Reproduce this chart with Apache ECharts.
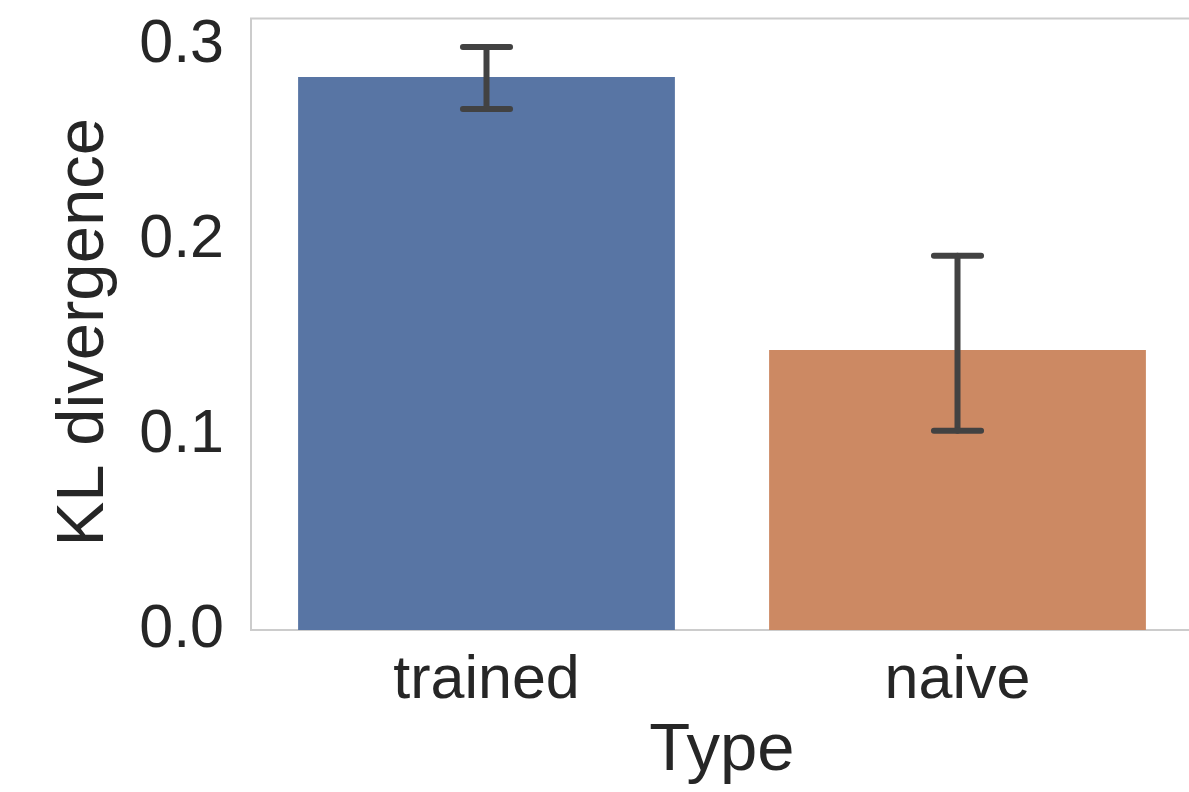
<!DOCTYPE html>
<html>
<head>
<meta charset="utf-8">
<script src="https://cdn.jsdelivr.net/npm/echarts@6/dist/echarts.min.js"></script>
<style>
html,body{margin:0;padding:0;background:#fff;overflow:hidden;}
#chart{width:1196px;height:792px;}
</style>
</head>
<body>
<div id="chart"></div>
<script>
const categories = ['trained', 'naive'];
const means = [0.2836, 0.1436];
const ciLow = [0.2672, 0.1022];
const ciHigh = [0.2990, 0.1919];
const barColors = ['#5875a4', '#cc8963'];
const yTicks = [0.0, 0.1, 0.2, 0.3];

const FONT = '"Liberation Sans", Arial, sans-serif';
const TXT = '#262626';

const chart = echarts.init(document.getElementById('chart'), null, {renderer: 'canvas'});
const option = {
  backgroundColor: '#ffffff',
  animation: false,
  grid: {
    left: 251, top: 18.5, width: 942, height: 611.5,
    show: true, borderColor: '#cccccc', borderWidth: 2, backgroundColor: 'transparent'
  },
  xAxis: {
    type: 'category',
    data: categories,
    name: 'Type',
    nameLocation: 'middle',
    nameGap: 88,
    nameTextStyle: {fontFamily: FONT, fontSize: 67, color: TXT, verticalAlign: 'top'},
    axisLine: {show: false},
    axisTick: {show: false},
    splitLine: {show: false},
    axisLabel: {fontFamily: FONT, fontSize: 61, color: TXT, margin: 21}
  },
  yAxis: {
    type: 'value',
    min: 0, max: 0.3136, interval: 0.1,
    name: 'KL divergence',
    nameLocation: 'middle',
    nameGap: 133,
    nameTextStyle: {fontFamily: FONT, fontSize: 67, color: TXT, padding: [0, 16, 0, 0]},
    axisLine: {show: false},
    axisTick: {show: false},
    splitLine: {show: false},
    axisLabel: {
      fontFamily: FONT, fontSize: 61, color: TXT, margin: 27,
      verticalAlign: 'middle', padding: [20, 0, 0, 0],
      showMaxLabel: false,
      formatter: function (v) {
        for (const t of yTicks) { if (Math.abs(v - t) < 1e-6) return t.toFixed(1); }
        return '';
      }
    }
  },
  series: [
    {
      type: 'bar',
      data: means.map((v, i) => ({value: v, itemStyle: {color: barColors[i]}})),
      barCategoryGap: '20%',
      z: 2
    },
    {
      type: 'custom',
      data: categories.map((c, i) => [i, ciLow[i], ciHigh[i]]),
      z: 5,
      renderItem: function (params, api) {
        const idx = api.value(0);
        const lo = api.coord([idx, api.value(1)]);
        const hi = api.coord([idx, api.value(2)]);
        const band = api.size([1, 0])[0];
        const half = band * 0.05;
        const style = {stroke: '#424242', lineWidth: 6, lineCap: 'round'};
        return {
          type: 'group',
          children: [
            {type: 'line', shape: {x1: lo[0], y1: lo[1], x2: hi[0], y2: hi[1]}, style: style},
            {type: 'line', shape: {x1: hi[0] - half, y1: hi[1], x2: hi[0] + half, y2: hi[1]}, style: style},
            {type: 'line', shape: {x1: lo[0] - half, y1: lo[1], x2: lo[0] + half, y2: lo[1]}, style: style}
          ]
        };
      }
    }
  ]
};
chart.setOption(option);
</script>
</body>
</html>
